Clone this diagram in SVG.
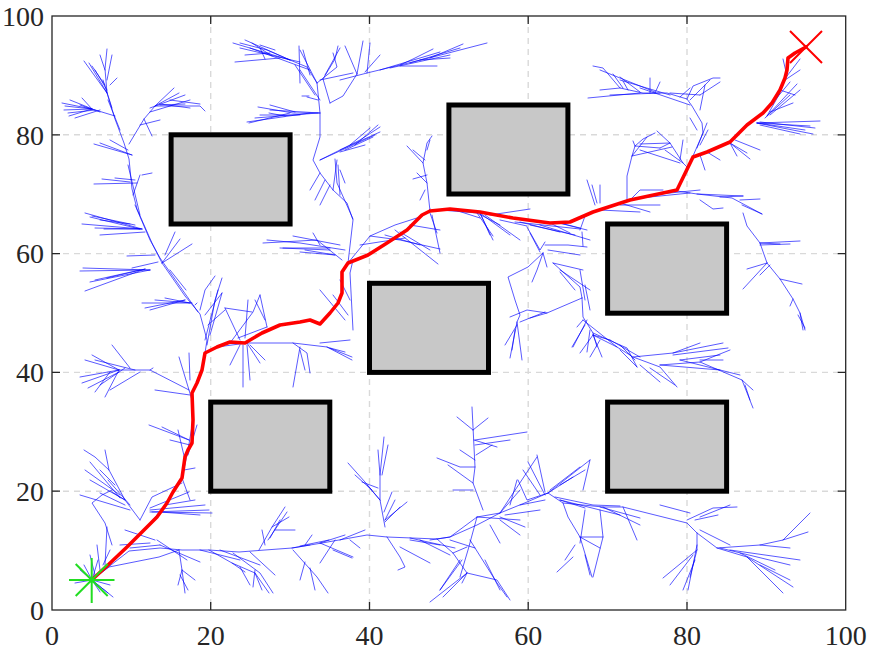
<svg xmlns="http://www.w3.org/2000/svg" width="869" height="651" viewBox="0 0 869 651">
<style>
.grid{stroke:#d9d9d9;stroke-width:1.4;stroke-dasharray:6 5;fill:none}
.tick{stroke:#262626;stroke-width:1.3;fill:none}
.lbl{font-family:"Liberation Serif","Times New Roman","DejaVu Serif",serif;font-size:28px;fill:#262626}
.t{fill:none;stroke:#0000ff;stroke-width:0.65;stroke-linecap:round;stroke-linejoin:round}
.obs{fill:#c8c8c8;stroke:#000;stroke-width:5}
.path{fill:none;stroke:#ff0000;stroke-width:3.6;stroke-linejoin:round;stroke-linecap:round}
</style>
<rect x="0" y="0" width="869" height="651" fill="#fff"/>
<g id="grid">
<path class="grid" d="M210.7,16V610M369.5,16V610M528.2,16V610M687,16V610M52,491.2H845.7M52,372.4H845.7M52,253.6H845.7M52,134.8H845.7"/>
</g>
<g id="tree">
<path class="t" d="M92,580 L80,570 M92,580 L84,565 M92,580 L100,592 M92,580 L108,593 M92,580 L110,585 M92,580 L98,560 M92,580 L75,583 M92,580 L113,597
M92,580 L108,565 L127,547 L147,527 L167,503 L182,478 L188,450 L193,420 L192,393 L202,370 L205,353
M100,570 L97,545 M105,565 L107,527 M103,565 L110,550 M95,575 L90,555
M112,545 L105,523 L92,503 L102,495 L112,490
M140,520 L125,500 L109,470 L95,457 L84,450 M125,500 L112,492 M115,485 L100,470 M109,470 L105,450 M130,505 L108,480 M130,510 L80,495 M125,505 L100,493 M120,498 L90,462
M140,520 L152,497 L182,483 M150,508 L189,492 M150,512 L209,510 M152,512 L212,513 M160,512 L200,515 M165,505 L195,500
M185,460 L178,430 M182,478 L190,500 M188,455 L197,425 M184,470 L195,468
M102,572 L129,551 L160,548 L182,550 L209,550 L239,552 L265,550 L292,548 L322,543 L367,535 L387,537 L437,539 L450,537 L477,525 L500,513 L527,502 L548,493 L563,503 L603,507 L623,507 L647,513 L687,523 L697,533 L717,548 L747,557 L793,587
M92,580 L109,567 L129,563 L159,557 L179,550
M155,540 L125,530 M150,543 L120,545 M160,545 L130,548 M157,540 L187,560 M160,545 L200,562
M179,550 L182,570 L185,593 M182,570 L195,580 M182,570 L178,585 M180,575 L188,590
M209,550 L232,563 L255,573 L269,593 M255,573 L262,590 M240,567 L250,585 M232,563 L245,572 M233,553 L260,573 L273,593 M255,570 L253,587
M259,550 L272,527 L285,507 M272,527 L289,517 M275,530 L295,530 M265,545 L262,530 M270,538 L280,520 M268,540 L287,512
M292,548 L310,545 M300,546 L329,540 M305,545 L312,535 M293,550 L317,577 L328,593 M310,568 L315,590 M305,562 L300,580 M333,550 L352,558
M320,543 L353,557 M335,540 L320,563 M350,540 L360,548
M385,527 L380,500 L380,475 L384,437 M380,475 L378,450 M382,475 L388,445 M380,500 L365,482 L348,463 M372,490 L355,475 M380,500 L367,485 M385,520 L407,502 M385,522 L400,507 M385,520 L395,500 M384,512 L392,492 M378,488 L362,482
M387,537 L400,557 L405,567 L398,570 M400,547 L430,563 M437,539 L453,553 L467,573 L462,583 M467,573 L430,602 M467,573 L443,597 M467,573 L497,580 L510,600 M460,560 L440,590 M453,553 L467,547 M450,540 L475,548 M410,540 L440,545
M483,510 L473,483 L475,467 L473,427 L472,407 M473,430 L457,417 M473,430 L488,418 M474,440 L497,447 M475,440 L527,432 M475,445 L510,440 M475,467 L460,467 L437,458 M473,483 L448,465 M473,490 L453,490 M475,460 L460,450 M476,455 L492,445
M500,513 L520,490 M500,513 L537,457 M510,505 L517,480 M520,505 L545,500 M505,515 L540,510 M500,520 L520,535 M500,517 L525,527
M548,493 L527,500 L518,480 M545,492 L537,455 M548,493 L573,477 M548,493 L590,460 M550,490 L580,467 M540,495 L523,470 M545,495 L528,462 M560,485 L585,470
M555,497 L593,505 L620,506 M560,500 L585,508 M563,503 L568,517 L580,537 L592,577 M573,557 L557,572 M575,545 L565,560 M580,537 L603,537 M580,537 L600,548 M585,555 L590,575
M500,513 L477,517 L450,537 L430,540 M477,517 L468,550 L460,577 M477,517 L520,520 M490,525 L500,543 M462,560 L440,590 M470,540 L497,583 L507,597 M485,560 L500,590
M717,548 L760,545 L783,540 L810,513 M783,540 L808,532 M760,545 L790,548 M747,557 L783,593 M740,553 L775,570 M760,565 L790,580
M687,520 L713,508 L737,507 M700,517 L730,505 M695,520 L718,515
M697,533 L697,550 L690,577 M697,550 L663,578 M695,560 L683,590 M693,555 L670,585 M697,545 L688,590
M603,507 L640,525 M623,507 L637,540 M660,505 L690,513 M600,510 L603,537 L593,577 M585,510 L580,543 M583,490 L590,460
M593,335 L617,347 L633,357 L660,367 L677,387 M617,347 L583,320 M600,340 L590,357 M593,335 L580,353 M593,335 L610,340 M633,357 L673,353 L700,343 M673,353 L723,343 M673,355 L728,348 M660,365 L700,362 L742,380 L753,390 M742,380 L753,408 M745,385 L750,400 M700,360 L723,360 M680,360 L720,355 M640,365 L660,382 M650,368 L675,385 M620,350 L637,367 M583,320 L577,327 M585,325 L572,347
M527,227 L540,250 L545,242 M530,233 L540,252 M543,253 L528,267 L508,277 L515,300 L520,315 L517,322 L510,358 M517,322 L522,360 M517,325 L505,345 M515,330 L512,350 M543,253 L537,270 L532,282 M543,253 L547,267 M545,245 L568,245 L587,247 M548,250 L580,255 M553,263 L580,287 L582,298 M553,263 L583,270 M560,270 L590,290 M560,272 L575,290
M582,298 L547,313 L527,310 L510,317 M547,313 L530,318 M545,312 L520,322 M582,298 L583,317 L593,333 L597,347 M587,320 L573,347 M590,330 L587,352 M593,335 L602,357 M593,333 L627,348 L637,367 M610,340 L640,357 M620,345 L635,360
M480,213 L493,240 M480,213 L490,235 M430,213 L437,233 M432,215 L440,253 M550,223 L570,233 M555,222 L587,230 M560,223 L580,228
M595,205 L587,180 M597,203 L592,185 M600,203 L600,185
M348,263 L370,236 L395,225 L423,216 L430,209 M370,236 L400,240 L440,249 M395,230 L438,264 M400,232 L430,250 M385,235 L420,245 M410,225 L440,230 M360,245 L405,238
M430,211 L427,183 L423,163 L427,143 L432,136 M427,183 L417,173 M423,163 L407,146 M425,160 L413,150 M427,175 L413,179 M427,150 L430,140 M425,190 L420,200
M440,210 L477,213 L493,236 M477,213 L500,225 M455,210 L480,218 M490,215 L530,209 M500,220 L527,226 M515,222 L580,229 M520,222 L560,232 M530,225 L575,235
M348,263 L353,220 L347,203 L333,190 L320,173 L313,160 L320,137 L320,113 L317,83 L307,67 L290,60 L267,50 L240,43
M333,190 L337,160 M340,195 L338,165 M345,250 L300,243 L267,240 M330,248 L283,248 M340,245 L293,236 M335,255 L305,250
M320,160 L360,140 L380,127 M345,150 L373,137 M350,145 L370,128 M340,152 L365,145
M320,173 L310,190 M325,180 L315,200 M330,185 L320,205
M320,113 L293,113 L258,107 M310,113 L247,122 M300,115 L260,115 M295,112 L270,105 M318,100 L307,97
M317,83 L337,67 L333,53 M320,80 L353,73 M325,75 L340,48 M317,83 L300,50 M310,75 L303,50 M300,83 L299,46 M302,96 L309,96
M290,60 L233,43 M280,58 L235,62 M270,53 L245,55 M275,50 L260,45 M252,43 L272,56 M265,59 L260,48
M249,123 L290,113 M269,113 L285,116
M340,80 L367,73 L433,57 L487,43 M400,65 L413,59 L433,49 M367,73 L370,43 M365,72 L380,55 M420,60 L450,58 M430,58 L463,44 M400,66 L437,66 M357,74 L363,41 M357,74 L345,46
M330,103 L323,79 L335,59 L338,46 M330,103 L343,96 L357,74
M335,159 L337,183 L353,219 M340,170 L345,183
M217,347 L247,343 L293,343 L327,347 L352,360 M293,343 L307,353 L310,373 M300,347 L293,387 M300,350 L305,370 M327,347 L352,357 M320,343 L350,340 M330,348 L345,352
M247,343 L260,363 M243,345 L243,387 M247,345 L250,380 M240,345 L230,365 M250,345 L265,360
M230,343 L253,312 L260,295 M238,338 L267,327 M240,340 L225,308 M245,338 L248,300 M225,308 L252,312 M267,327 L260,295 M265,320 L255,300
M353,330 L350,273 L353,260 M345,320 L320,290 M348,315 L333,295 M350,300 L340,280
M342,260 L317,240 L263,243 M330,250 L280,248 M335,255 L300,252 M320,245 L313,233
M207,345 L215,300 L222,278 M210,335 L222,293 M205,340 L218,290 M208,325 L225,310
M190,395 L155,390 M189,390 L150,370 L119,370 L92,355 M119,370 L80,377 M119,370 L82,383 M119,370 L105,397 M125,368 L100,385 M130,368 L112,345 M135,370 L95,360 M140,372 L110,390 M150,370 L153,368
M192,400 L179,357 M190,380 L189,353 M189,440 L162,427 M189,440 L149,425 M190,445 L170,440
M205,353 L207,340 L200,314 L185,296 L162,263 L152,243 L137,209 L132,189 L129,159 L124,143 L115,119 L107,93 L105,69 L107,49
M115,116 L92,109 L65,106 M92,109 L64,110 M92,109 L69,116 M92,109 L82,98 M95,110 L68,113 M100,112 L80,105
M107,93 L89,63 M107,93 L84,61 M110,85 L117,78 M107,80 L112,55 M105,70 L100,55
M129,144 L144,119 L155,106 L200,106 L205,111 M155,106 L174,88 M155,106 L179,93 M160,105 L185,104 M150,112 L190,100 M144,119 L152,136 M140,125 L160,120
M132,155 L100,143 M132,155 L94,144 M128,150 L110,140
M137,183 L94,184 M130,182 L102,179 M135,180 L115,178 M142,175 L152,173
M142,229 L85,213 M142,229 L82,224 M140,229 L104,229 M135,225 L92,216 M130,224 L100,220
M162,263 L192,244 M162,263 L180,239 M155,255 L127,256 M158,262 L132,268 M165,255 L175,232
M150,270 L80,271 M145,269 L85,291 M145,269 L107,278 M140,270 L95,280
M190,303 L142,303 M190,303 L165,298 M185,300 L150,310 M195,305 L197,303
M200,310 L205,290 L215,276 M205,315 L222,293
M693,156 L703,133 L702,123 L692,106 L687,99 L667,93 L643,93 L620,88 L603,68 L593,66 M687,99 L693,86 L713,78 L720,78 M640,93 L588,98 M620,88 L600,90 M650,93 L650,78 M655,93 L660,82 M623,88 L613,74 M628,90 L623,81 M670,93 L700,95 M680,97 L690,88 M697,148 L707,123 M700,145 L708,130 M697,130 L690,118 M640,92 L620,77
M688,168 L683,163 L670,143 L660,148 M670,143 L640,144 M670,143 L657,131 M683,163 L665,150 M680,160 L683,140
M627,201 L627,176 L632,156 L635,146 L643,139 L655,133 M635,146 L660,148 M635,146 L633,141 M632,156 L647,137 M632,156 L672,147 M640,150 L680,163
M730,143 L750,159 M730,143 L747,153 M730,143 L737,156 M735,140 L760,150 M757,123 L813,134 M757,123 L820,121 M757,123 L810,126 M760,125 L800,134
M767,116 L797,84 M767,116 L780,93 M770,112 L793,103 M787,76 L800,59 M787,76 L783,59 M785,80 L800,70 M780,90 L795,95 M775,100 L790,82 M707,152 L720,160 M700,155 L705,170
M677,191 L697,194 L732,198 L762,214 M697,194 L743,196 M700,200 L713,209 L723,208 M720,197 L743,196 M740,200 L760,199 M742,205 L762,214
M743,213 L747,226 L760,243 L767,263 L780,279 L793,299 L800,313 L805,330 M760,243 L800,241 M760,243 L780,244 M767,263 L747,269 M767,263 L743,289 M780,279 L802,284 M793,299 L790,306 M760,245 L790,244 M770,265 L760,275 M800,313 L803,330 M798,315 L805,328
M630,200 L640,190 L663,190 M640,198 L690,193 M650,195 L700,190 M620,205 L660,205 M620,203 L650,212 M600,210 L640,212
M580,230 L585,216 M582,232 L583,246 M585,300 L580,270 M590,310 L585,285"/>
<path class="t" d="M198,312 L160,258 L150,240 L135,205 M186,290 L170,270 M140,215 L128,165 M133,195 L140,175 M120,130 L108,100 M112,108 L103,80
M92,109 L62,103 M90,108 L70,100 M100,110 L75,118 M107,90 L95,70 M105,85 L92,66 M150,108 L185,95 M160,104 L190,108 M170,100 L200,104
M140,229 L90,217 M142,229 L95,228 M145,232 L100,235 M150,270 L90,282 M150,270 L83,268 M192,303 L155,300 M185,300 L145,308
M310,70 L250,48 M300,62 L240,48 M290,60 L245,40 M320,100 L300,70 M315,95 L295,65 M320,113 L270,110 M318,113 L255,118
M320,160 L375,135 M340,150 L380,132 M355,145 L378,125 M380,70 L440,52 M390,68 L450,55 M410,63 L460,48
M690,105 L640,88 M670,95 L620,80 M660,93 L610,95 M655,92 L600,70 M700,110 L705,85 M690,100 L710,80 M700,95 L720,82
M757,123 L805,130 M760,122 L815,128 M765,118 L790,95 M770,115 L800,90
M480,213 L510,235 M485,215 L520,240 M540,225 L590,240
M200,550 L240,560 M220,550 L260,565 M250,552 L275,575 M320,543 L345,535 M340,540 L365,530 M410,538 L455,548 M420,540 L450,555
M560,500 L620,515 M600,507 L640,518 M700,530 L730,545 M720,548 L790,565 M730,550 L800,560
M660,365 L720,370 M680,360 L740,375 M700,362 L730,350
M119,370 L85,360 M119,372 L88,388 M110,372 L95,392 M125,500 L90,480 M120,495 L85,470 M150,510 L205,505"/>
</g>
<g id="obstacles">
<rect id="obs1" class="obs" x="171.1" y="134.8" width="119" height="89.2"/>
<rect id="obs2" class="obs" x="448.9" y="105" width="119" height="89"/>
<rect id="obs3" class="obs" x="369.5" y="283.3" width="119" height="89.1"/>
<rect id="obs4" class="obs" x="607.6" y="224" width="119" height="89.2"/>
<rect id="obs5" class="obs" x="210.7" y="402.1" width="119.1" height="89.1"/>
<rect id="obs6" class="obs" x="607.6" y="402.1" width="119" height="89.1"/>
</g>
<g id="route">
<path class="path" d="M91.7,580 L108,565 L127,547 L147,527 L157,517 L167,503 L173,492 L182,478 L185,457 L188,450 L192,443 L193,420 L192,393 L197,383 L202,370 L205,353 L217,347 L230,342 L245,343 L262,333 L280,325 L300,322 L310,320 L320,324 L330,313 L338,303 L342,293 L342,272 L348,263 L368,255 L387,243 L407,230 L422,215 L430,211 L450,209 L480,212 L513,218 L550,223 L570,222 L593,212 L630,200 L677,190 L693,157 L707,152 L730,142 L747,125 L763,113 L772,103 L780,90 L785,78 L787,70 L788,58 L795,53 L806,47"/>
</g>
<g id="start">
<path d="M91.7,558V603M69,580H114.5M75.7,564L107.7,596M75.7,596L107.7,564" stroke="#22dd22" stroke-width="2" fill="none"/>
</g>
<g id="goal">
<path d="M790,31L822,63M790,63L822,31" stroke="#ff0000" stroke-width="2" fill="none"/>
</g>
<g id="axes">
<rect x="52" y="16" width="793.7" height="594" class="tick"/>
<path class="tick" d="M210.7,610v-8M369.5,610v-8M528.2,610v-8M687,610v-8M210.7,16v8M369.5,16v8M528.2,16v8M687,16v8M52,491.2h8M52,372.4h8M52,253.6h8M52,134.8h8M845.7,491.2h-8M845.7,372.4h-8M845.7,253.6h-8M845.7,134.8h-8"/>
<text class="lbl" x="52" y="645" text-anchor="middle" font-family="Liberation Serif, serif">0</text>
<text class="lbl" x="210.7" y="645" text-anchor="middle" font-family="Liberation Serif, serif">20</text>
<text class="lbl" x="369.5" y="645" text-anchor="middle" font-family="Liberation Serif, serif">40</text>
<text class="lbl" x="528.2" y="645" text-anchor="middle" font-family="Liberation Serif, serif">60</text>
<text class="lbl" x="687" y="645" text-anchor="middle" font-family="Liberation Serif, serif">80</text>
<text class="lbl" x="845.7" y="645" text-anchor="middle" font-family="Liberation Serif, serif">100</text>
<text class="lbl" x="44" y="620" text-anchor="end" font-family="Liberation Serif, serif">0</text>
<text class="lbl" x="44" y="501" text-anchor="end" font-family="Liberation Serif, serif">20</text>
<text class="lbl" x="44" y="382" text-anchor="end" font-family="Liberation Serif, serif">40</text>
<text class="lbl" x="44" y="263" text-anchor="end" font-family="Liberation Serif, serif">60</text>
<text class="lbl" x="44" y="145" text-anchor="end" font-family="Liberation Serif, serif">80</text>
<text class="lbl" x="44" y="26" text-anchor="end" font-family="Liberation Serif, serif">100</text>
</g>
</svg>
